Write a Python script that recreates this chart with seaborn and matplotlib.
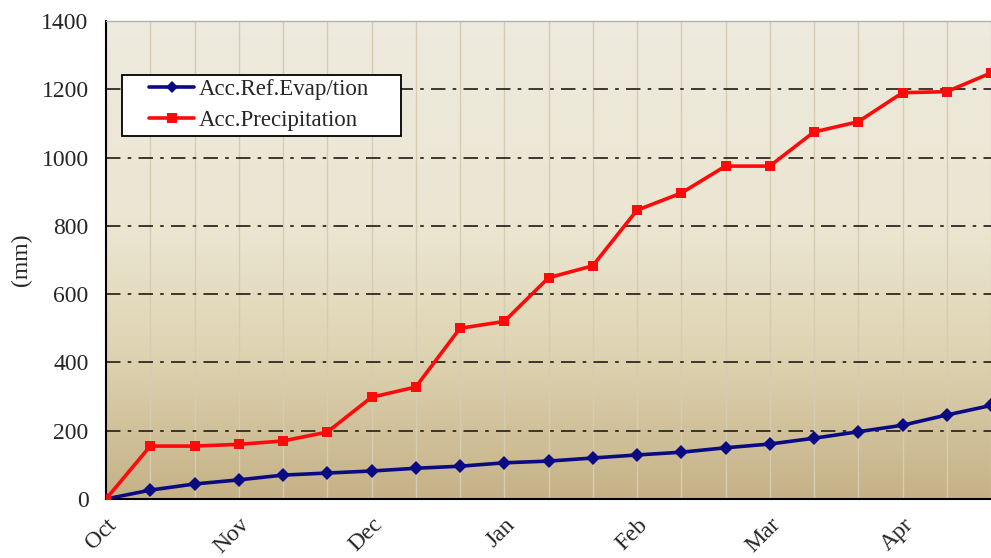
import numpy as np
import pandas as pd
import matplotlib
matplotlib.use("Agg")
import matplotlib.pyplot as plt
from matplotlib.colors import LinearSegmentedColormap
from matplotlib.lines import Line2D
from matplotlib.patches import Rectangle
import seaborn as sns

# ---- data (10-day steps starting 1 Oct) ----
month_labels = ["Oct", "Nov", "Dec", "Jan", "Feb", "Mar", "Apr"]
acc_evap = [0, 26, 44, 56, 70, 76, 82, 90, 96, 106, 111, 120, 129, 137,
            150, 161, 178, 197, 216, 246, 274]
acc_prec = [0, 155, 155, 160, 170, 196, 298, 328, 500, 520, 648, 683,
            846, 896, 975, 975, 1075, 1105, 1190, 1193, 1248]
step = list(range(len(acc_evap)))

df = pd.DataFrame({"step": step * 2,
                   "value": acc_evap + acc_prec,
                   "series": ["Acc.Ref.Evap/tion"] * len(acc_evap)
                   + ["Acc.Precipitation"] * len(acc_prec)})

sns.set_theme(style="white")
plt.rcParams["font.family"] = ["Liberation Serif", "DejaVu Serif"]

W, H = 991, 558
fig = plt.figure(figsize=(W / 100, H / 100), dpi=100)
ax = fig.add_axes([106 / W, (H - 499) / H, 885 / W, 478 / H])

# gradient background
cmap = LinearSegmentedColormap.from_list(
    "bg", [(0.0, "#c5b187"), (0.3, "#ded3b1"), (0.55, "#ebe5d0"), (1.0, "#eeebdf")])
grad = np.linspace(0, 1, 256).reshape(-1, 1)
ax.imshow(grad, aspect="auto", cmap=cmap, origin="lower",
          extent=[0, 1, 0, 1], transform=ax.transAxes, zorder=0)

# vertical light gridlines
for s in step[1:]:
    ax.axvline(s, color="#d6ccb2", lw=1.0, zorder=1)
# horizontal dash-dot gridlines
for v in range(200, 1400, 200):
    ax.axhline(v, color="#2e2a22", lw=1.3, ls=(0, (8, 4, 2, 4)), zorder=1)

palette = {"Acc.Ref.Evap/tion": "#0a0a82", "Acc.Precipitation": "#ff0a0a"}
markers = {"Acc.Ref.Evap/tion": "D", "Acc.Precipitation": "s"}
sns.lineplot(data=df, x="step", y="value", hue="series", style="series",
             palette=palette, markers=markers, dashes=False, lw=2.6,
             markersize=7.5, markeredgewidth=0, ax=ax, zorder=3, legend=False)

ax.set_xlim(0, 20)
ax.set_ylim(0, 1400)
ax.set_yticks(range(0, 1401, 200))
ax.set_xticks(step)
ax.set_xticklabels([month_labels[i // 3] if i % 3 == 0 else "" for i in step],
                   rotation=45, ha="right", rotation_mode="anchor", fontsize=17)
ax.tick_params(axis="x", length=6, width=1.2, color="black", direction="in",
               pad=11)
ax.tick_params(axis="y", length=6, width=1.2, color="black", direction="out",
               labelsize=17, pad=6.5)
ax.set_xlabel("")
ax.set_ylabel("(mm)", fontsize=17, labelpad=7)

for side in ["left", "bottom"]:
    ax.spines[side].set_color("black")
    ax.spines[side].set_linewidth(1.5)
ax.spines["top"].set_color("#b0b0b0")
ax.spines["top"].set_linewidth(1.0)
ax.spines["right"].set_visible(False)

# legend box (drawn as a frame) + frameless legend inside
box = Rectangle((122 / W, 1 - 136 / H), (401 - 122) / W, (136 - 75) / H,
                transform=fig.transFigure, facecolor="white",
                edgecolor="black", lw=1.3, zorder=4)
fig.patches.append(box)
handles = [Line2D([], [], color=palette[k], marker=markers[k], lw=2.6,
                  markersize=6.5, markeredgewidth=0) for k in palette]
leg = fig.legend(handles, list(palette), loc="upper left",
                 bbox_to_anchor=(149 / W, 1 - 79 / H), fontsize=16.5,
                 frameon=False, borderpad=0, handlelength=1.97,
                 handletextpad=0.22, labelspacing=0.42, borderaxespad=0)
leg.set_zorder(5)

fig.savefig("out.png", dpi=100)
